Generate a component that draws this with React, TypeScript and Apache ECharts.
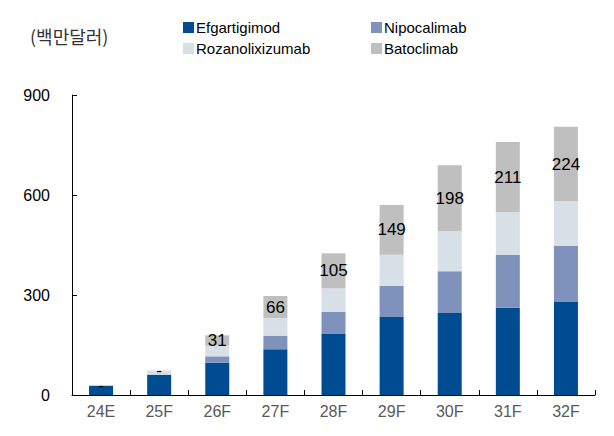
import React, { useEffect, useRef } from "react";
import * as echarts from "echarts";

const categories = ["24E", "25F", "26F", "27F", "28F", "29F", "30F", "31F", "32F"];
const efgartigimod = [28, 61, 97, 137, 183, 234, 246, 262, 279];
const nipocalimab = [0, 0, 19, 41, 66, 93, 125, 158, 168];
const rozanolixizumab = [2, 13, 32, 53, 71, 94, 120, 128, 134];
const batoclimab = [0, 0, 31, 66, 105, 149, 198, 211, 224];
const yTicks = { min: 0, max: 900, interval: 300 };

const FONT = "'Liberation Sans', Arial, sans-serif";

export default function App() {
  const ref = useRef<HTMLDivElement>(null);
  useEffect(() => {
    if (!ref.current) return;
    const chart = echarts.init(ref.current, undefined, { renderer: "svg" });
    const mk = (name: string, data: number[], color: string, label = false) => ({
      name,
      type: "bar",
      stack: "total",
      data,
      barWidth: 24,
      itemStyle: { color },
      label: label
        ? {
            show: true,
            position: "inside",
            color: "#000",
            fontSize: 17,
            fontFamily: FONT,
            formatter: (p: any) => (p.value === 0 ? "-" : String(p.value)),
          }
        : { show: false },
      emphasis: { disabled: true },
    });
    const legendText = { fontSize: 15, color: "#000", fontFamily: FONT, padding: [0, 0, 0, -3] };
    chart.setOption({
      animation: false,
      backgroundColor: "#fff",
      textStyle: { fontFamily: FONT },
      title: {
        text: "(백만달러)",
        left: 25,
        top: 22,
        textStyle: { fontSize: 18, fontWeight: "normal", color: "#333", fontFamily: "'Noto Sans CJK KR', sans-serif" },
      },
      legend: [
        {
          data: ["Efgartigimod", "Rozanolixizumab"],
          orient: "vertical",
          left: 178,
          top: 15,
          itemWidth: 11,
          itemHeight: 11,
          itemGap: 6,
          icon: "rect",
          textStyle: legendText,
        },
        {
          data: ["Nipocalimab", "Batoclimab"],
          orient: "vertical",
          left: 366,
          top: 15,
          itemWidth: 11,
          itemHeight: 11,
          itemGap: 6,
          icon: "rect",
          textStyle: legendText,
        },
      ],
      grid: { left: 72, right: 19, top: 95, bottom: 41, containLabel: false },
      xAxis: {
        type: "category",
        data: categories,
        axisLine: { lineStyle: { color: "#000", width: 1 } },
        axisTick: { show: true, inside: true, length: 5, alignWithLabel: false, lineStyle: { color: "#000" } },
        axisLabel: { color: "#595959", fontSize: 16, margin: 8, fontFamily: FONT },
      },
      yAxis: {
        type: "value",
        min: yTicks.min,
        max: yTicks.max,
        interval: yTicks.interval,
        axisLine: { show: true, lineStyle: { color: "#000", width: 1 } },
        axisTick: { show: true, inside: true, length: 5, lineStyle: { color: "#000" } },
        splitLine: { show: false },
        axisLabel: { color: "#000", fontSize: 16, margin: 22, fontFamily: FONT },
      },
      series: [
        mk("Efgartigimod", efgartigimod, "#004C93"),
        mk("Nipocalimab", nipocalimab, "#7F92BC"),
        mk("Rozanolixizumab", rozanolixizumab, "#D7DFE7"),
        mk("Batoclimab", batoclimab, "#BFBFBF", true),
      ],
    });
    return () => chart.dispose();
  }, []);
  return <div ref={ref} style={{ width: 614, height: 436, position: "absolute", left: 0, top: 0 }} />;
}
